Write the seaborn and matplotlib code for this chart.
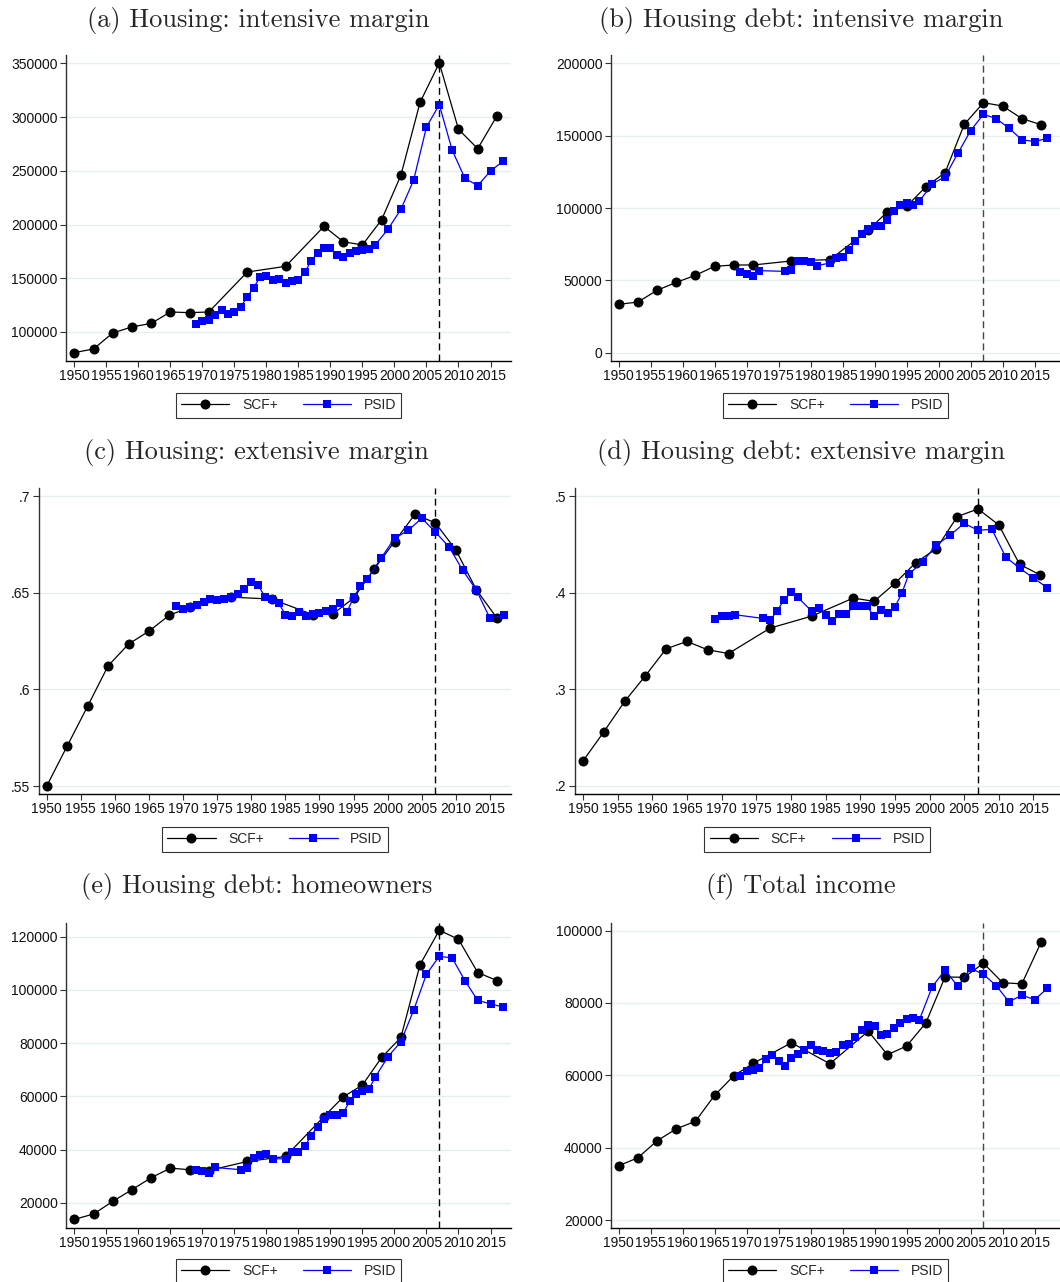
import numpy as np
import pandas as pd
import matplotlib
matplotlib.use("Agg")
import matplotlib.pyplot as plt
import seaborn as sns

# ---------------- data ----------------
scf_years = [1950, 1953, 1956, 1959, 1962, 1965, 1968, 1971, 1977, 1983,
             1989, 1992, 1995, 1998, 2001, 2004, 2007, 2010, 2013, 2016]
psid_years_full = [1969, 1970, 1971, 1972, 1973, 1974, 1975, 1976, 1977, 1978,
                   1979, 1980, 1981, 1982, 1983, 1984, 1985, 1986, 1987, 1988,
                   1989, 1990, 1991, 1992, 1993, 1994, 1995, 1996, 1997, 1999,
                   2001, 2003, 2005, 2007, 2009, 2011, 2013, 2015, 2017]
psid_years_debt = [1969, 1970, 1971, 1972, 1976, 1977, 1978, 1979, 1980, 1981,
                   1983, 1984, 1985, 1986, 1987, 1988, 1989, 1990, 1991, 1992,
                   1993, 1994, 1995, 1996, 1997, 1999, 2001, 2003, 2005, 2007,
                   2009, 2011, 2013, 2015, 2017]

# (a) Housing: intensive margin
scf_a = [80800, 84200, 99100, 104700, 108000, 118600, 118000, 118600, 155800, 161100,
         198300, 184000, 181000, 204500, 245800, 313700, 350300, 288600, 270600, 301000]
psid_a = [107400, 110200, 111200, 115800, 120500, 116400, 118600, 123600, 132600, 141300,
          150900, 152400, 148400, 149000, 145900, 147500, 148700, 155500, 166400, 173500,
          178200, 178200, 171700, 170100, 173500, 175700, 176300, 176900, 181000, 195800,
          214100, 241400, 290800, 311500, 269400, 243000, 236200, 249800, 259100]

# (b) Housing debt: intensive margin
scf_b = [33400, 35000, 43100, 48600, 53500, 59700, 60600, 60600, 63400, 64300,
         84600, 97500, 101200, 114700, 124400, 157800, 172800, 170500, 161800, 157600]
psid_b = [55500, 54400, 53000, 56700, 56200, 57100, 63100, 63600, 62700, 60100,
          62000, 65200, 66400, 71000, 77000, 82000, 85500, 87800, 87800, 91700,
          98200, 102300, 103200, 102300, 104800, 116600, 121700, 137800, 153500, 164800,
          161800, 155100, 147200, 145900, 148200]

# (c) Housing: extensive margin
scf_c = [0.550, 0.5707, 0.5913, 0.6122, 0.6235, 0.6302, 0.6385, 0.6425, 0.6478, 0.6468,
         0.6388, 0.6392, 0.6473, 0.6623, 0.6765, 0.6907, 0.6862, 0.6722, 0.6516, 0.6371]
psid_c = [0.6432, 0.6418, 0.6426, 0.6437, 0.6454, 0.6466, 0.6461, 0.6471, 0.6478, 0.6494,
          0.6521, 0.6559, 0.6540, 0.6480, 0.6466, 0.6447, 0.6388, 0.6378, 0.6399, 0.6378,
          0.6390, 0.6395, 0.6406, 0.6416, 0.6447, 0.6399, 0.6477, 0.6535, 0.6570, 0.6679,
          0.6782, 0.6824, 0.6886, 0.6815, 0.6738, 0.6617, 0.6515, 0.6368, 0.6385]

# (d) Housing debt: extensive margin
scf_d = [0.2259, 0.2560, 0.2875, 0.3141, 0.3421, 0.3497, 0.3410, 0.3372, 0.3635, 0.3759,
         0.3946, 0.3912, 0.4098, 0.4312, 0.4458, 0.4790, 0.4869, 0.4703, 0.4295, 0.4185]
psid_d = [0.3728, 0.3763, 0.3756, 0.3773, 0.3735, 0.3718, 0.3811, 0.3929, 0.4005, 0.3953,
          0.3811, 0.3842, 0.3773, 0.3708, 0.3777, 0.3777, 0.3860, 0.3863, 0.3860, 0.3756,
          0.3825, 0.3794, 0.3853, 0.3995, 0.4191, 0.4323, 0.4496, 0.4599, 0.4720, 0.4648,
          0.4658, 0.4371, 0.4257, 0.4153, 0.4053]

# (e) Housing debt: homeowners
scf_e = [13750, 15750, 20500, 24900, 29400, 33000, 32400, 32100, 35500, 37400,
         52400, 59750, 64250, 74600, 82100, 109500, 122400, 119000, 106500, 103500]
psid_e = [32400, 32000, 31100, 33250, 32400, 33000, 36900, 38100, 38250, 36500,
          36500, 38900, 39200, 41250, 45250, 48600, 51600, 53000, 52900, 53750,
          58100, 61000, 61900, 62600, 67250, 74900, 80500, 92400, 105900, 112600,
          112000, 103500, 96000, 94750, 93500]

# (f) Total income
scf_f = [35000, 37200, 41900, 45200, 47300, 54500, 59900, 63300, 69000, 63200,
         72200, 65700, 68100, 74500, 87200, 87100, 91000, 85600, 85300, 96800]
psid_f = [59900, 61300, 61400, 61900, 64500, 65600, 63900, 62500, 64700, 65800,
          67000, 68400, 67000, 66800, 66300, 66500, 68400, 68700, 70600, 72500,
          73800, 73600, 71100, 71500, 73100, 74500, 75600, 75900, 75400, 84500,
          89100, 84600, 89600, 87900, 84800, 80300, 82200, 80900, 84100]

titles = ["(a) Housing: intensive margin", "(b) Housing debt: intensive margin",
          "(c) Housing: extensive margin", "(d) Housing debt: extensive margin",
          "(e) Housing debt: homeowners", "(f) Total income"]
x_ticks = list(range(1950, 2016, 5))

# ---------------- style ----------------
sns.set_style("white")
plt.rcParams['font.family'] = ['Liberation Sans', 'DejaVu Sans']

W, H = 1060, 1282
fig = plt.figure(figsize=(W / 100, H / 100), dpi=100)

def px_axes(left, right, top, bottom):
    return fig.add_axes([left / W, 1 - bottom / H, (right - left) / W, (bottom - top) / H])

panels = [
    dict(box=(66, 511, 55, 361), xlim=(1948.7, 2018.2), ylim=(73000, 357750),
         yt=[100000, 150000, 200000, 250000, 300000, 350000], ytl=None,
         scf=scf_a, psid=psid_a, py=psid_years_full, tx=258, ty=20, ly=393, vc='black'),
    dict(box=(611, 1060, 55, 361), xlim=(1948.8, 2018.96), ylim=(-5760, 205760),
         yt=[0, 50000, 100000, 150000, 200000], ytl=None,
         scf=scf_b, psid=psid_b, py=psid_years_debt, tx=801, ty=20, ly=393, vc='#444444'),
    dict(box=(38.7, 511, 488, 794), xlim=(1948.83, 2018.08), ylim=(0.5459, 0.7043),
         yt=[0.55, 0.6, 0.65, 0.7], ytl=['.55', '.6', '.65', '.7'],
         scf=scf_c, psid=psid_c, py=psid_years_full, tx=256, ty=453, ly=827, vc='black'),
    dict(box=(574.7, 1060, 488, 794), xlim=(1948.8, 2018.83), ylim=(0.1917, 0.5086),
         yt=[0.2, 0.3, 0.4, 0.5], ytl=['.2', '.3', '.4', '.5'],
         scf=scf_d, psid=psid_d, py=psid_years_debt, tx=801, ty=453, ly=827, vc='black'),
    dict(box=(66, 511, 923, 1228), xlim=(1948.7, 2018.2), ylim=(10500, 125125),
         yt=[20000, 40000, 60000, 80000, 100000, 120000], ytl=None,
         scf=scf_e, psid=psid_e, py=psid_years_debt, tx=257, ty=887, ly=1259, vc='black'),
    dict(box=(611, 1060, 923, 1228), xlim=(1948.8, 2018.96), ylim=(17793, 102115),
         yt=[20000, 40000, 60000, 80000, 100000], ytl=None,
         scf=scf_f, psid=psid_f, py=psid_years_full, tx=801, ty=887, ly=1259, vc='#444444'),
]

for p, title in zip(panels, titles):
    l, r, t, b = p['box']
    ax = px_axes(l, r, t, b)
    df_s = pd.DataFrame({'year': scf_years, 'value': p['scf']})
    df_p = pd.DataFrame({'year': p['py'], 'value': p['psid']})
    for yv in p['yt']:
        ax.axhline(yv, color='#E6EFF0', lw=1.0, zorder=0)
    ax.axvline(2007, color=p['vc'], lw=1.0, ls=(0, (5, 3)), zorder=1)
    sns.lineplot(data=df_s, x='year', y='value', ax=ax, color='black', lw=0.9,
                 marker='o', markersize=7.2, markeredgewidth=0, label='SCF+', zorder=3)
    sns.lineplot(data=df_p, x='year', y='value', ax=ax, color='#0000FF', lw=0.9,
                 marker='s', markersize=6, markeredgewidth=0, label='PSID', zorder=4)
    ax.set_xlim(*p['xlim'])
    ax.set_ylim(*p['ylim'])
    ax.set_xticks(x_ticks)
    ax.set_xticklabels([str(v) for v in x_ticks])
    ax.set_yticks(p['yt'])
    if p['ytl'] is not None:
        ax.set_yticklabels(p['ytl'])
    else:
        ax.set_yticklabels([str(v) for v in p['yt']])
    ax.set_xlabel('')
    ax.set_ylabel('')
    ax.grid(False)
    for s in ['top', 'right']:
        ax.spines[s].set_visible(False)
    ax.spines['left'].set_color('#333333')
    ax.spines['left'].set_linewidth(1.0)
    ax.spines['bottom'].set_color('black')
    ax.spines['bottom'].set_linewidth(1.0)
    ax.tick_params(axis='both', direction='out', length=4, width=0.8, color='#333333',
                   labelsize=10, pad=2, labelcolor='#111111')
    ax.tick_params(axis='x', bottom=True, pad=1.5)
    ax.tick_params(axis='y', left=True)
    ax.set_facecolor('white')
    handles, labels = ax.get_legend_handles_labels()
    cx = ((l + r) / 2) / W
    leg = ax.legend(handles, labels, loc='upper center',
                    bbox_to_anchor=(cx, 1 - p['ly'] / H), bbox_transform=fig.transFigure,
                    ncol=2, frameon=True, fancybox=False, edgecolor='black',
                    fontsize=10, handlelength=3.5, columnspacing=1.8, handletextpad=0.9,
                    borderpad=0.38, borderaxespad=0)
    leg.get_frame().set_linewidth(0.8)
    fig.text(p['tx'] / W, 1 - p['ty'] / H, title, ha='center', va='center',
             fontsize=19, family='cmr10')

fig.savefig('out.png', dpi=100, facecolor='white')
